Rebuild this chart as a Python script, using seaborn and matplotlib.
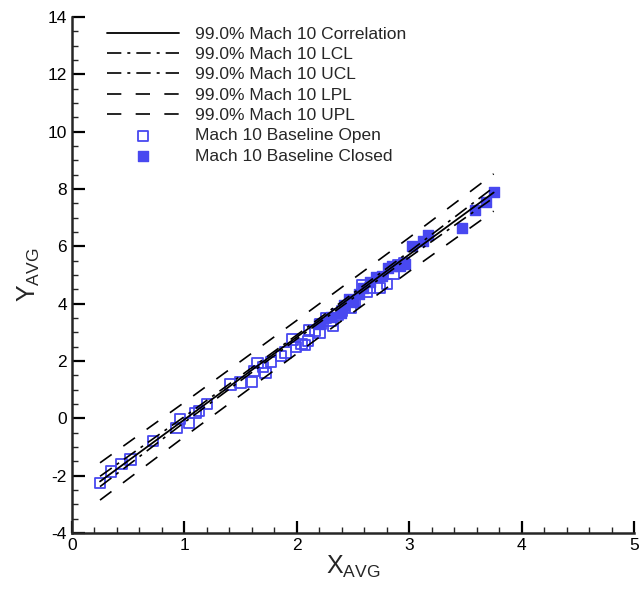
import numpy as np
import matplotlib
matplotlib.use("Agg")
import matplotlib.pyplot as plt
from matplotlib.ticker import MultipleLocator
import seaborn as sns

# === Data ===
open_x = [0.25, 0.35, 0.44, 0.52, 0.72, 0.93, 0.96, 1.04, 1.10, 1.13, 1.20, 1.41,
          1.50, 1.60, 1.62, 1.65, 1.70, 1.72, 1.77, 1.86, 1.90, 1.96, 1.99, 2.04,
          2.07, 2.10, 2.11, 2.16, 2.20, 2.21, 2.26, 2.30, 2.32, 2.36, 2.40, 2.43,
          2.48, 2.52, 2.58, 2.62, 2.65, 2.74, 2.80, 2.86, 2.90, 2.95]
open_y = [-2.25, -1.85, -1.60, -1.43, -0.78, -0.33, -0.03, -0.15, 0.18, 0.25, 0.49, 1.18,
          1.25, 1.27, 1.65, 1.94, 1.80, 1.58, 1.96, 2.18, 2.30, 2.75, 2.50, 2.60,
          2.55, 2.70, 3.08, 3.05, 2.98, 3.30, 3.50, 3.40, 3.22, 3.62, 3.75, 3.90,
          3.85, 4.05, 4.65, 4.40, 4.55, 4.55, 4.70, 5.05, 5.35, 5.40]

closed_x = [2.20, 2.30, 2.39, 2.42, 2.46, 2.50, 2.55, 2.59, 2.65, 2.70, 2.76, 2.81,
            2.85, 2.92, 2.96, 3.02, 3.12, 3.17, 3.47, 3.58, 3.68, 3.75]
closed_y = [3.30, 3.55, 3.68, 3.97, 4.15, 4.05, 4.35, 4.55, 4.75, 4.92, 4.98, 5.25,
            5.32, 5.33, 5.40, 6.00, 6.20, 6.41, 6.65, 7.28, 7.56, 7.90]

line_x = [0.25, 1.0, 2.0, 3.0, 3.75]
corr_y = [-2.20, -0.04, 2.84, 5.72, 7.88]
lcl_y = [-2.38, -0.14, 2.77, 5.62, 7.70]
ucl_y = [-2.02, 0.06, 2.91, 5.82, 8.06]
lpl_y = [-2.85, -0.64, 2.26, 5.13, 7.23]
upl_y = [-1.55, 0.56, 3.42, 6.31, 8.53]

labels = ['99.0% Mach 10 Correlation', '99.0% Mach 10 LCL', '99.0% Mach 10 UCL',
          '99.0% Mach 10 LPL', '99.0% Mach 10 UPL',
          'Mach 10 Baseline Open', 'Mach 10 Baseline Closed']

blue = '#4848f0'

sns.set_style("ticks")
plt.rcParams['font.family'] = ['Liberation Sans', 'DejaVu Sans']
plt.rcParams['mathtext.fontset'] = 'custom'
plt.rcParams['mathtext.rm'] = 'Liberation Sans'
plt.rcParams['mathtext.it'] = 'Liberation Sans'
plt.rcParams['axes.unicode_minus'] = False

fig = plt.figure(figsize=(6.42, 5.89), dpi=100)
ax = fig.add_axes([0.112, 0.095, 0.876, 0.876])

# === Fit and limit lines ===
dashdot = (0, (8.6, 3.6, 1.8, 3.6))
dashed = (0, (8.6, 8.6))
sns.lineplot(x=line_x, y=corr_y, color='black', lw=1.3, label=labels[0], ax=ax)
sns.lineplot(x=line_x, y=lcl_y, color='black', lw=1.2, linestyle=dashdot, label=labels[1], ax=ax)
sns.lineplot(x=line_x, y=ucl_y, color='black', lw=1.2, linestyle=dashdot, label=labels[2], ax=ax)
sns.lineplot(x=line_x, y=lpl_y, color='black', lw=1.2, linestyle=dashed, label=labels[3], ax=ax)
sns.lineplot(x=line_x, y=upl_y, color='black', lw=1.2, linestyle=dashed, label=labels[4], ax=ax)

# === Data points ===
sns.scatterplot(x=open_x, y=open_y, marker='s', s=55, facecolor='none',
                edgecolor=blue, linewidth=1.3, label=labels[5], ax=ax)
sns.scatterplot(x=closed_x, y=closed_y, marker='s', s=55, color=blue,
                edgecolor=blue, linewidth=1.0, label=labels[6], ax=ax)

ax.set_xlim(0, 5)
ax.set_ylim(-4, 14)
ax.xaxis.set_major_locator(MultipleLocator(1))
ax.xaxis.set_minor_locator(MultipleLocator(0.2))
ax.yaxis.set_major_locator(MultipleLocator(2))
ax.yaxis.set_minor_locator(MultipleLocator(0.5))
ax.tick_params(which='major', direction='in', length=9, width=1.6, labelsize=12.5, colors='black')
ax.tick_params(which='minor', direction='in', length=4.5, width=1.0)
for s in ['top', 'right']:
    ax.spines[s].set_visible(False)
for s in ['left', 'bottom']:
    ax.spines[s].set_linewidth(1.8)

ax.set_xlabel(r'X$_{\mathrm{AVG}}$', fontsize=18, labelpad=1)
ax.set_ylabel(r'Y$_{\mathrm{AVG}}$', fontsize=18, labelpad=4)

ax.legend(loc='upper left', bbox_to_anchor=(0.035, 1.012), frameon=False, fontsize=12.5,
          handlelength=4.15, handletextpad=0.9, labelspacing=0.3, scatterpoints=1)

fig.savefig('out.png', dpi=100)
